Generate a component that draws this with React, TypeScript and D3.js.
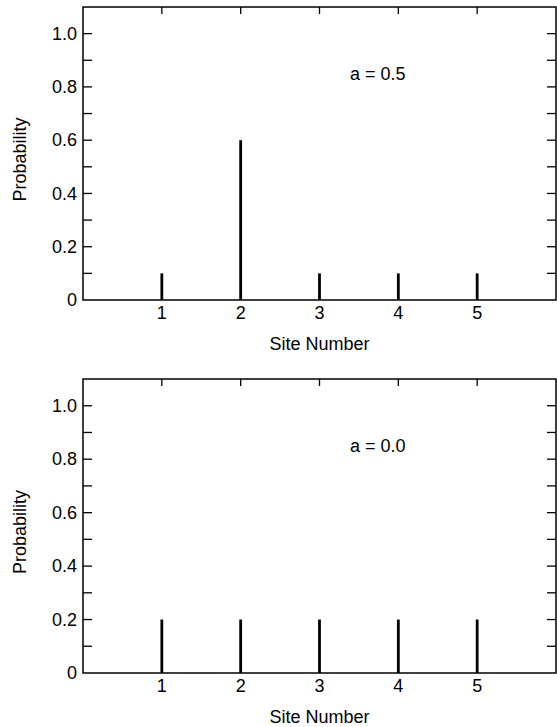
import React, { useEffect, useRef } from "react";
import * as d3 from "d3";

// site numbers on the x axis
const sites = [1, 2, 3, 4, 5];
// stem heights for each panel
const probA05 = [0.1, 0.6, 0.1, 0.1, 0.1];
const probA00 = [0.2, 0.2, 0.2, 0.2, 0.2];
const panelLabels = ["a = 0.5", "a = 0.0"];
// labelled y ticks and the unlabelled minor ones
const yMajor = [0, 0.2, 0.4, 0.6, 0.8, 1.0];
const yMinor = [0.1, 0.3, 0.5, 0.7, 0.9];

const W = 557;
const H = 727;

const App: React.FC = () => {
  const svgRef = useRef<SVGSVGElement | null>(null);

  useEffect(() => {
    const svg = d3.select(svgRef.current);
    svg.selectAll("*").remove();

    const left = 83;
    const right = 556;
    const panels = [
      { top: 7, bottom: 300, values: probA05, label: panelLabels[0] },
      { top: 379, bottom: 673, values: probA00, label: panelLabels[1] },
    ];
    const font = "'Liberation Sans', Arial, Helvetica, sans-serif";
    const fs = 18;

    const x = d3.scaleLinear().domain([0, 6]).range([left, right]);

    panels.forEach(p => {
      const y = d3.scaleLinear().domain([0, 1.1]).range([p.bottom, p.top]);
      const g = svg.append("g");

      // frame
      g.append("rect")
        .attr("x", left)
        .attr("y", p.top)
        .attr("width", right - left)
        .attr("height", p.bottom - p.top)
        .attr("fill", "none")
        .attr("stroke", "#000")
        .attr("stroke-width", 1.5);

      // inward ticks on left and right
      const allTicks = yMajor.filter(d => d > 0).concat(yMinor);
      g.selectAll("line.yl")
        .data(allTicks)
        .join("line")
        .attr("class", "yl")
        .attr("x1", left)
        .attr("x2", left + 9)
        .attr("y1", d => y(d))
        .attr("y2", d => y(d))
        .attr("stroke", "#000")
        .attr("stroke-width", 1.3);
      g.selectAll("line.yr")
        .data(allTicks)
        .join("line")
        .attr("class", "yr")
        .attr("x1", right)
        .attr("x2", right - 9)
        .attr("y1", d => y(d))
        .attr("y2", d => y(d))
        .attr("stroke", "#000")
        .attr("stroke-width", 1.3);

      // top ticks at each site
      g.selectAll("line.xt")
        .data(sites)
        .join("line")
        .attr("class", "xt")
        .attr("x1", d => x(d))
        .attr("x2", d => x(d))
        .attr("y1", p.top)
        .attr("y2", p.top + 7)
        .attr("stroke", "#000")
        .attr("stroke-width", 1.3);

      // y tick labels
      g.selectAll("text.yt")
        .data(yMajor)
        .join("text")
        .attr("class", "yt")
        .attr("x", left - 6)
        .attr("y", d => y(d))
        .attr("dy", "0.35em")
        .attr("text-anchor", "end")
        .style("font-family", font)
        .style("font-size", `${fs}px`)
        .text(d => (d === 0 ? "0" : d.toFixed(1)));

      // x tick labels
      g.selectAll("text.xl")
        .data(sites)
        .join("text")
        .attr("class", "xl")
        .attr("x", d => x(d))
        .attr("y", p.bottom + 13)
        .attr("dy", "0.35em")
        .attr("text-anchor", "middle")
        .style("font-family", font)
        .style("font-size", `${fs}px`)
        .text(d => d);

      // stems
      g.selectAll("line.stem")
        .data(p.values)
        .join("line")
        .attr("class", "stem")
        .attr("x1", (_, i) => x(sites[i]))
        .attr("x2", (_, i) => x(sites[i]))
        .attr("y1", y(0))
        .attr("y2", d => y(d))
        .attr("stroke", "#000")
        .attr("stroke-width", 2.8);

      // axis titles
      g.append("text")
        .attr("x", (left + right) / 2)
        .attr("y", p.bottom + 44)
        .attr("dy", "0.35em")
        .attr("text-anchor", "middle")
        .style("font-family", font)
        .style("font-size", `${fs}px`)
        .text("Site Number");

      const cy = (p.top + p.bottom) / 2 + 6;
      g.append("text")
        .attr("transform", `translate(20, ${cy}) rotate(-90)`)
        .attr("dy", "0.35em")
        .attr("text-anchor", "middle")
        .style("font-family", font)
        .style("font-size", `${fs}px`)
        .text("Probability");

      // panel label
      g.append("text")
        .attr("x", 350)
        .attr("y", y(0.85))
        .attr("dy", "0.35em")
        .style("font-family", font)
        .style("font-size", `${fs}px`)
        .text(p.label);
    });
  }, []);

  return (
    <svg
      ref={svgRef}
      width={W}
      height={H}
      style={{ position: "absolute", left: 0, top: 0, background: "#fff" }}
    />
  );
};

export default App;
